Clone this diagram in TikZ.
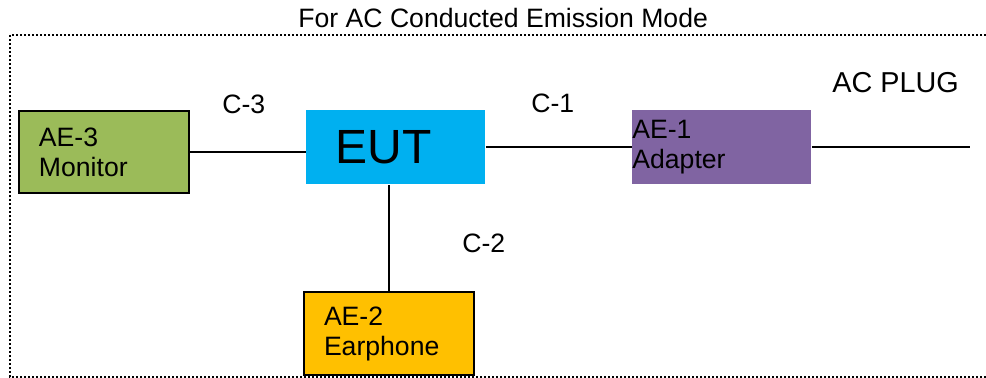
\documentclass[tikz,border=0pt]{standalone}
\usepackage{fontspec}
\setmainfont{Liberation Sans}
\usetikzlibrary{positioning}
\definecolor{monitorColor}{RGB}{155,187,89}
\definecolor{eutColor}{RGB}{0,176,240}
\definecolor{adapterColor}{RGB}{128,100,162}
\definecolor{earphoneColor}{RGB}{255,192,0}

\begin{document}
\begin{tikzpicture}[x=0.5pt, y=-0.5pt,
    unit/.style={rectangle, anchor=north west, inner ysep=0pt, align=left, font=\fontsize{13.3}{15}\selectfont},
    cable/.style={line width=1pt},
    tag/.style={anchor=base west, inner sep=0pt, font=\fontsize{13.3}{15}\selectfont}
]
    \useasboundingbox (0,0) rectangle (986,378);
    % Test area frame
    \draw[line width=1pt, dash pattern=on 1pt off 1pt] (10,35) rectangle (994,377);
    \node[tag] (title) at (298,28) {For AC Conducted Emission Mode};

    % Equipment
    \node[unit, draw, line width=1pt, fill=monitorColor, minimum width=85pt, minimum height=41pt, inner xsep=10pt, text width=65pt] (ae3) at (18,110) {AE-3\\Monitor};
    \node[unit, fill=eutColor, minimum width=89.5pt, minimum height=37pt, inner xsep=14.5pt, text width=60.5pt, font=\fontsize{24}{28}\selectfont] (eut) at (306,110) {EUT};
    \node[unit, fill=adapterColor, minimum width=89.5pt, minimum height=37pt, inner xsep=0pt, text width=89.5pt] (ae1) at (632,110) {AE-1\\Adapter};
    \node[unit, draw, line width=1pt, fill=earphoneColor, minimum width=85pt, minimum height=41.5pt, inner xsep=10pt, text width=65pt] (ae2) at (303,291) {AE-2\\Earphone};
    \coordinate (plug) at (970,149);

    % Cables
    \draw[cable] (ae3.east) -- (ae3.east -| eut.west);
    \draw[cable] (eut.east) -- (ae1.west);
    \draw[cable] (ae1.east) -- (ae1.east -| plug);
    \draw[cable] (ae2.north) -- (ae2.north |- eut.south);

    % Cable labels
    \node[tag] (c3) at (222,114) {C-3};
    \node[tag] (c1) at (531,113) {C-1};
    \node[tag] (c2) at (462,253) {C-2};
    \node[tag, font=\fontsize{14.4}{16}\selectfont] (acplug) at (832,93) {AC PLUG};
\end{tikzpicture}
\end{document}
